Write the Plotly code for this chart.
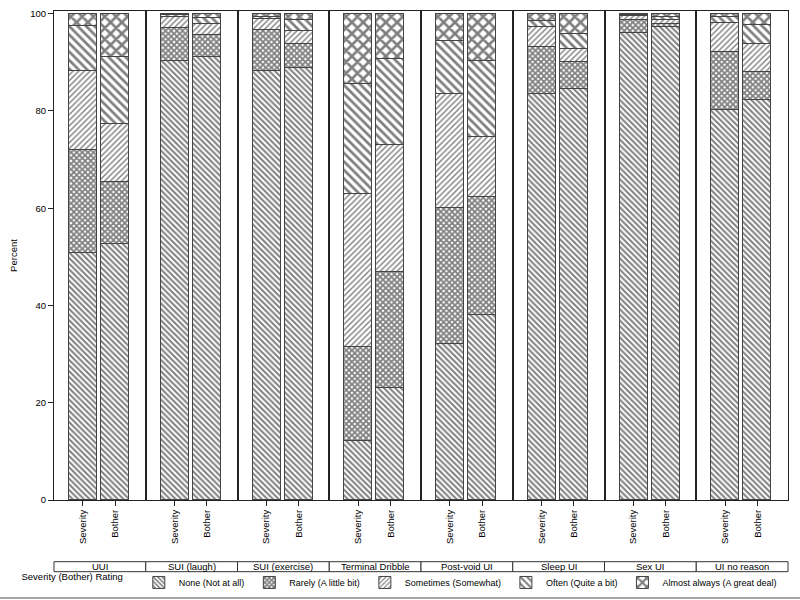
import plotly.graph_objects as go
from plotly.subplots import make_subplots

# groups along the x axis, two bars in each
groups = ["UUI", "SUI (laugh)", "SUI (exercise)", "Terminal Dribble",
          "Post-void UI", "Sleep UI", "Sex UI", "UI no reason"]
measures = ["Severity", "Bother"]
ratings = ["None (Not at all)", "Rarely (A little bit)", "Sometimes (Somewhat)",
           "Often (Quite a bit)", "Almost always (A great deal)"]

# percent per group: [Severity, Bother]
none_pct = [[50.8, 52.7], [90.3, 91.1], [88.3, 88.9], [12.1, 23.0],
            [32.0, 38.1], [83.5, 84.6], [96.1, 97.2], [80.1, 82.2]]
rarely_pct = [[21.1, 12.7], [6.7, 4.6], [8.3, 4.9], [19.3, 23.8],
              [28.1, 24.2], [9.6, 5.4], [2.7, 0.7], [12.1, 5.9]]
sometimes_pct = [[16.4, 11.9], [2.3, 2.2], [2.3, 2.6], [31.6, 26.2],
                 [23.3, 12.3], [4.1, 2.8], [0.8, 0.7], [5.9, 5.7]]
often_pct = [[9.1, 13.8], [0.4, 1.2], [0.5, 2.2], [22.5, 17.7],
             [11.0, 15.6], [1.2, 3.1], [0.2, 0.8], [1.3, 3.9]]
always_pct = [[2.6, 8.9], [0.3, 0.9], [0.6, 1.4], [14.5, 9.3],
              [5.6, 9.8], [1.6, 4.1], [0.2, 0.6], [0.6, 2.3]]

series = [none_pct, rarely_pct, sometimes_pct, often_pct, always_pct]

# black-and-white hatch fills
patterns = [
    dict(shape="\\", size=4, solidity=0.5),
    dict(shape="x", size=4, solidity=0.7),
    dict(shape="/", size=4, solidity=0.35),
    dict(shape="\\", size=6, solidity=0.45),
    dict(shape="x", size=8, solidity=0.55),
]

FONT = "Liberation Sans, Arial, sans-serif"
FS = 9
n = len(groups)

fig = make_subplots(rows=1, cols=n, shared_yaxes=True, horizontal_spacing=0)

for g in range(n):
    for r, vals in enumerate(series):
        p = patterns[r]
        fig.add_trace(go.Bar(
            x=measures, y=vals[g], name=ratings[r], legendgroup=ratings[r],
            showlegend=(g == 0), width=0.86,
            marker=dict(color="white",
                        line=dict(color="#444444", width=1),
                        pattern=dict(shape=p["shape"], size=p["size"],
                                     solidity=p["solidity"],
                                     fgcolor="black", bgcolor="white")),
        ), row=1, col=g + 1)

    # group label box under each panel
    xref = "x domain" if g == 0 else f"x{g + 1} domain"
    fig.add_shape(type="rect", xref=xref, yref="paper", x0=0, x1=1,
                  y0=-0.1466, y1=-0.1262, line=dict(color="#333333", width=1),
                  fillcolor="white")
    fig.add_annotation(xref=xref, yref="paper", x=0.5, y=-0.1364,
                       xanchor="center", yanchor="middle",
                       text=groups[g], showarrow=False,
                       font=dict(family=FONT, size=FS + 0.5, color="black"))

fig.update_xaxes(type="category", range=[-0.895, 1.945], showline=True,
                 mirror=True, linecolor="#222222", linewidth=1,
                 ticks="outside", ticklen=5, tickcolor="#222222",
                 tickangle=-90, showgrid=False, automargin=False,
                 tickfont=dict(family=FONT, size=FS + 0.5, color="black"))
fig.update_yaxes(range=[0, 100.55], showline=True, mirror=True,
                 linecolor="#222222", linewidth=1, showgrid=False,
                 zeroline=False, ticks="", showticklabels=False,
                 automargin=False)
fig.update_yaxes(row=1, col=1, ticks="outside", ticklen=5, tickcolor="#222222",
                 showticklabels=True, tickvals=[0, 20, 40, 60, 80, 100],
                 tickfont=dict(family=FONT, size=FS + 0.5, color="black"),
                 title=dict(text="Percent", standoff=10,
                            font=dict(family=FONT, size=FS + 0.5,
                                      color="black")))

# thin rule along the bottom edge
fig.add_shape(type="line", xref="paper", yref="paper", x0=-0.075, x1=1.02,
              y0=-0.2004, y1=-0.2004, line=dict(color="#888888", width=1.5))

fig.update_layout(
    width=800, height=600,
    barmode="stack", bargap=0,
    plot_bgcolor="white", paper_bgcolor="white",
    margin=dict(l=54, r=12, t=11, b=100, autoexpand=False),
    font=dict(family=FONT, size=FS, color="black"),
    legend=dict(orientation="h", x=-0.047, xanchor="left",
                y=-0.139, yanchor="top",
                title=dict(text="Severity (Bother) Rating&nbsp;&nbsp;&nbsp;",
                           side="left",
                           font=dict(family=FONT, size=FS + 0.5)),
                font=dict(family=FONT, size=FS, color="black"),
                traceorder="normal", itemwidth=30,
                bgcolor="rgba(0,0,0,0)"),
)

# page body margin would offset the figure by 8px
fig.write_html("out.html", config={"displayModeBar": False},
               post_script="document.body.style.margin='0';")
